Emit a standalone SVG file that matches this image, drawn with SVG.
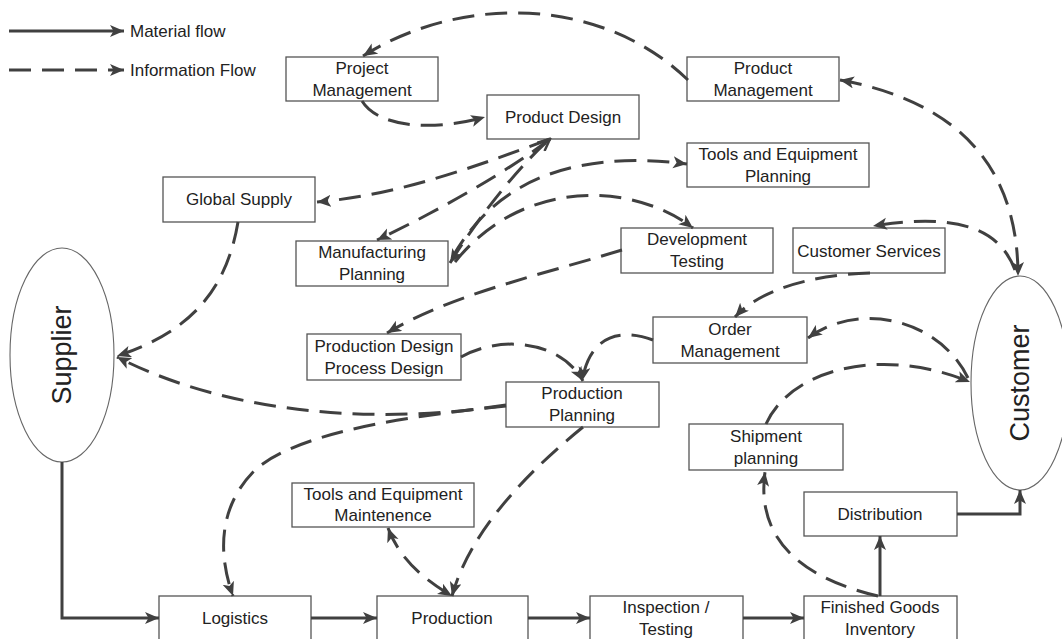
<svg xmlns="http://www.w3.org/2000/svg" width="1062" height="639" viewBox="0 0 1062 639">
<style>
.box{fill:#fff;stroke:#555;stroke-width:1.3}
.ell{fill:#fff;stroke:#666;stroke-width:1.1}
.t{font-family:"Liberation Sans",Arial,sans-serif;font-size:17px;fill:#222;text-anchor:middle}
.big{font-family:"Liberation Sans",Arial,sans-serif;font-size:27px;fill:#222;text-anchor:middle}
.lg{font-family:"Liberation Sans",Arial,sans-serif;font-size:17px;fill:#222}
.info{fill:none;stroke:#404040;stroke-width:3;stroke-dasharray:22 11}
.mat{fill:none;stroke:#404040;stroke-width:3}
</style>
<defs>
<marker id="a" markerUnits="userSpaceOnUse" markerWidth="15" markerHeight="13" refX="14" refY="6" orient="auto-start-reverse"><path d="M0,0 L14,6 L0,12 L3.5,6 z" fill="#404040"/></marker>
<marker id="v" markerUnits="userSpaceOnUse" markerWidth="15" markerHeight="13" refX="13" refY="6.5" orient="auto"><path d="M1,1 L13,6.5 L1,12" fill="none" stroke="#404040" stroke-width="2.5"/></marker>
</defs>
<g id="legend">
<line class="mat" x1="9" y1="31" x2="124" y2="31" marker-end="url(#a)"/>
<text class="lg" x="130" y="37">Material flow</text>
<line class="info" x1="9" y1="70" x2="124" y2="70" stroke-dasharray="23 13" marker-end="url(#a)"/>
<text class="lg" x="130" y="76">Information Flow</text>
</g>
<g id="supplier"><ellipse class="ell" cx="62" cy="355" rx="52" ry="107"/><text class="big" transform="translate(71,355) rotate(-90)">Supplier</text></g>
<g id="customer"><ellipse class="ell" cx="1020" cy="383" rx="49" ry="107"/><text class="big" transform="translate(1029,383) rotate(-90)">Customer</text></g>
<g id="project-management"><rect class="box" x="286" y="57" width="152" height="44"/><text class="t" x="362" y="74">Project</text><text class="t" x="362" y="96">Management</text></g>
<g id="product-design"><rect class="box" x="487" y="95" width="152" height="44"/><text class="t" x="563" y="123">Product Design</text></g>
<g id="product-management"><rect class="box" x="687" y="57" width="152" height="44"/><text class="t" x="763" y="74">Product</text><text class="t" x="763" y="96">Management</text></g>
<g id="tools-equipment-planning"><rect class="box" x="687" y="143" width="182" height="44"/><text class="t" x="778" y="160">Tools and Equipment</text><text class="t" x="778" y="182">Planning</text></g>
<g id="global-supply"><rect class="box" x="163" y="177" width="152" height="45"/><text class="t" x="239" y="205">Global Supply</text></g>
<g id="manufacturing-planning"><rect class="box" x="296" y="241" width="152" height="45"/><text class="t" x="372" y="258">Manufacturing</text><text class="t" x="372" y="280">Planning</text></g>
<g id="development-testing"><rect class="box" x="621" y="228" width="152" height="45"/><text class="t" x="697" y="245">Development</text><text class="t" x="697" y="267">Testing</text></g>
<g id="customer-services"><rect class="box" x="793" y="228" width="152" height="45"/><text class="t" x="869" y="257">Customer Services</text></g>
<g id="order-management"><rect class="box" x="653" y="317" width="154" height="46"/><text class="t" x="730" y="335">Order</text><text class="t" x="730" y="357">Management</text></g>
<g id="production-design"><rect class="box" x="307" y="334" width="154" height="46"/><text class="t" x="384" y="352">Production Design</text><text class="t" x="384" y="374">Process Design</text></g>
<g id="production-planning"><rect class="box" x="506" y="382" width="153" height="45"/><text class="t" x="582" y="399">Production</text><text class="t" x="582" y="421">Planning</text></g>
<g id="shipment-planning"><rect class="box" x="689" y="424" width="154" height="46"/><text class="t" x="766" y="442">Shipment</text><text class="t" x="766" y="464">planning</text></g>
<g id="tools-equipment-maintenence"><rect class="box" x="292" y="483" width="182" height="44"/><text class="t" x="383" y="500">Tools and Equipment</text><text class="t" x="383" y="521">Maintenence</text></g>
<g id="distribution"><rect class="box" x="804" y="492" width="153" height="44"/><text class="t" x="880" y="520">Distribution</text></g>
<g id="logistics"><rect class="box" x="159" y="596" width="152" height="50"/><text class="t" x="235" y="624">Logistics</text></g>
<g id="production"><rect class="box" x="377" y="596" width="151" height="50"/><text class="t" x="452" y="624">Production</text></g>
<g id="inspection"><rect class="box" x="590" y="596" width="153" height="50"/><text class="t" x="666" y="613">Inspection /</text><text class="t" x="666" y="635">Testing</text></g>
<g id="finished-goods"><rect class="box" x="804" y="596" width="153" height="50"/><text class="t" x="880" y="613">Finished Goods</text><text class="t" x="880" y="635">Inventory</text></g>
<g id="connectors">
<path class="info" d="M688,80 C600,-5 460,-5 363,56" marker-end="url(#a)"/>
<path class="info" d="M362,101 C380,130 440,130 485,117" marker-end="url(#a)"/>
<path class="info" d="M840,80 C950,100 1018,160 1018,276" marker-start="url(#a)" marker-end="url(#a)"/>
<path class="info" d="M1015,270 C1000,230 960,212 873,226" marker-end="url(#a)"/>
<path class="info" d="M870,273 C810,275 760,290 735,317" marker-end="url(#a)"/>
<path class="info" d="M968,378 C940,320 860,300 808,338" marker-end="url(#a)"/>
<path class="info" d="M766,424 C790,370 880,345 970,382" marker-end="url(#a)"/>
<path class="info" d="M653,340 C620,328 590,335 582,381" marker-end="url(#a)"/>
<path class="info" d="M461,357 C500,335 560,340 583,381" marker-end="url(#a)"/>
<path class="info" d="M622,250 C540,275 450,295 387,333" marker-end="url(#a)"/>
<path class="info" d="M550,139 C480,165 400,195 317,202" marker-end="url(#a)"/>
<path class="info" d="M550,139 C510,170 440,210 377,240" marker-end="url(#a)"/>
<path class="info" d="M450,263 C480,215 520,165 550,139" marker-start="url(#a)" marker-end="url(#v)"/>
<path class="info" d="M452,258 C490,190 560,148 687,164" marker-end="url(#a)"/>
<path class="info" d="M455,262 C520,180 630,180 693,228" marker-end="url(#a)"/>
<path class="info" d="M238,222 C225,300 180,335 117,356" marker-end="url(#a)"/>
<path class="info" d="M506,405 C380,425 230,415 117,357" marker-end="url(#a)"/>
<path class="info" d="M506,406 C420,415 300,430 255,470 C215,510 220,560 233,596" marker-end="url(#a)"/>
<path class="info" d="M583,427 C530,470 470,530 452,596" marker-end="url(#a)"/>
<path class="info" d="M388,528 C400,560 425,580 452,596" marker-start="url(#a)" marker-end="url(#a)"/>
<path class="info" d="M878,596 C810,580 755,545 765,472" marker-end="url(#a)"/>
<path class="mat" d="M62,462 V618 H159" marker-end="url(#a)"/>
<path class="mat" d="M311,618 H377" marker-end="url(#a)"/>
<path class="mat" d="M528,618 H590" marker-end="url(#a)"/>
<path class="mat" d="M743,618 H804" marker-end="url(#a)"/>
<path class="mat" d="M880,596 V536" marker-end="url(#a)"/>
<path class="mat" d="M957,514 H1020 V490" marker-end="url(#a)"/>
</g>
</svg>
